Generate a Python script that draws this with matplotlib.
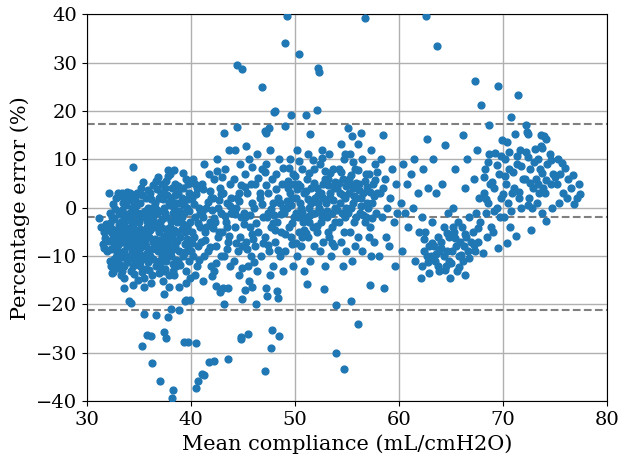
import matplotlib
matplotlib.use('Agg')
import matplotlib.pyplot as plt
import numpy as np

# Bland-Altman style plot: percentage error vs mean compliance
bias = -1.9
upper_loa = 17.25
lower_loa = -21.05

left_cluster = [
    (31.2, -2.2), (31.5, -7.5), (31.6, -5.0), (31.8, -3.4), (31.9, -9.0), (31.7, -6.2),
    (32.1, 3.0), (32.2, -1.0), (32.3, -4.2), (32.4, -5.3), (32.5, -6.4), (32.6, -7.2), (32.7, -8.1),
    (32.8, -10.2), (32.9, -11.0), (32.3, -12.1), (32.5, -13.3), (32.8, 2.0), (32.2, -3.1), (32.6, -2.4),
    (32.9, -9.3), (32.4, -13.6), (32.7, -5.8), (32.1, -6.9), (32.9, -4.7),
    (33.0, 3.1), (33.4, 3.0), (33.9, 3.3), (33.2, 2.5), (33.5, 1.0), (33.1, -1.2), (33.6, -2.0),
    (33.3, -3.0), (33.8, -4.1), (33.2, -5.0), (33.7, -6.1), (33.4, -7.0), (33.9, -8.0), (33.1, -9.2),
    (33.5, -10.1), (33.6, -12.0), (33.3, -14.0), (33.6, -16.7), (33.8, 0.5), (33.0, -4.5), (33.5, -5.5),
    (33.2, -6.5), (33.9, -11.3), (33.4, -13.1), (33.7, -2.7), (33.0, -7.8),
    (34.45, 8.4), (34.1, 3.1), (34.6, 2.0), (34.3, 0.0), (34.8, -1.0), (34.2, -2.1), (34.7, -3.0),
    (34.4, -4.2), (34.9, -5.0), (34.1, -6.1), (34.5, -7.0), (34.8, -8.1), (34.3, -9.0), (34.6, -11.0),
    (34.2, -13.0), (34.9, -15.0), (34.0, -19.3), (34.2, -19.8), (34.5, 1.1), (34.9, -2.5), (34.0, -5.5),
    (34.7, -9.5), (34.4, -12.1), (34.8, -6.6), (34.1, -10.4), (34.6, -4.7),
    (35.4, 5.3), (35.2, 4.0), (35.7, 2.1), (35.1, 1.0), (35.9, 0.0), (35.3, -1.0), (35.6, -2.0),
    (35.0, -3.0), (35.8, -4.0), (35.4, -5.0), (35.2, -6.0), (35.7, -8.0), (35.5, -10.0), (35.1, -12.0),
    (35.5, -14.6), (35.5, -22.0), (35.3, -28.5), (35.8, -26.4), (35.9, -3.5), (35.6, -7.0), (35.0, -9.1),
    (35.9, -11.2), (35.3, -13.2), (35.7, -5.6), (35.2, -1.8),
    (36.8, 6.3), (36.6, 5.5), (36.4, 4.6), (36.1, 3.0), (36.9, 2.0), (36.3, 0.0), (36.7, -1.0),
    (36.2, -3.0), (36.5, -4.0), (36.9, -5.0), (36.0, -6.0), (36.4, -7.0), (36.8, -9.0), (36.1, -10.0),
    (36.6, -12.0), (36.3, -14.0), (36.6, -22.2), (36.2, -26.5), (36.3, -32.2), (37.0, -35.9), (36.5, 1.0),
    (36.0, -2.0), (36.7, -8.0), (36.9, -11.0), (36.2, -15.5), (36.5, -6.4),
    (37.8, 7.8), (37.8, 6.6), (37.2, 5.0), (37.5, 4.0), (37.1, 3.0), (37.9, 1.0), (37.4, 0.0),
    (37.6, -2.0), (37.0, -3.0), (37.8, -5.0), (37.3, -7.0), (37.7, -8.0), (37.2, -10.0), (37.6, -11.0),
    (37.4, -13.0), (37.3, -15.1), (37.4, -17.9), (37.9, -16.3), (37.8, -22.7), (37.4, -25.6), (37.65, -26.9),
    (37.0, 2.0), (37.5, -1.0), (37.1, -4.0), (37.9, -6.0), (37.5, -9.2), (37.0, -12.0),
    (38.4, 7.75), (38.0, 6.9), (38.5, 5.0), (38.2, 4.0), (38.8, 3.0), (38.1, 2.0), (38.6, 1.0),
    (38.3, -1.0), (38.9, -2.0), (38.0, -4.0), (38.7, -5.0), (38.2, -6.0), (38.5, -8.0), (38.9, -9.0),
    (38.1, -10.0), (38.6, -12.0), (38.4, -14.0), (38.85, -16.3), (38.1, -21.0), (38.9, -21.1),
    (38.3, -37.6), (38.2, -39.4), (38.4, 0.0), (38.7, -3.0), (38.0, -7.0), (38.8, -11.0), (38.3, -13.0),
    (39.5, 6.0), (39.2, 4.0), (39.8, 3.0), (39.1, 2.0), (39.6, 0.0), (39.3, -1.0), (39.9, -3.0),
    (39.4, -5.0), (39.0, -6.0), (39.7, -8.0), (39.2, -10.0), (39.8, -11.0), (39.5, -13.0),
    (39.45, -19.3), (39.55, -19.1), (39.9, -19.1), (39.3, -27.75), (39.7, -27.7), (39.1, -2.0),
    (39.6, -4.0), (39.0, 1.0), (39.4, -7.5), (39.9, -14.5),
]

# extra points filling the dense block at low compliance
left_fill = [
    (32.0, -4.6), (32.3, -8.6), (32.6, -10.6), (32.8, -6.6), (32.4, -2.0), (32.9, -12.4), (32.2, -11.0),
    (32.7, -0.2), (32.5, 0.8), (31.9, -4.4), (31.4, -3.9), (31.6, -8.4),
    (33.1, -3.6), (33.3, -5.8), (33.6, -8.9), (33.8, -9.9), (33.2, -11.8), (33.5, -3.8), (33.9, -1.4),
    (33.4, -0.4), (33.7, 2.1), (33.0, -10.8), (33.6, -14.5), (33.8, -6.8),
    (34.3, -3.4), (34.6, -5.8), (34.1, -7.8), (34.9, -10.6), (34.5, -13.8), (34.2, -0.8), (34.7, 0.4),
    (34.0, 1.6), (34.8, 3.0), (34.4, -16.0), (34.6, -8.6), (34.1, -4.1),
    (35.1, -4.5), (35.4, -6.8), (35.8, -9.4), (35.2, -10.9), (35.6, -0.6), (35.3, 2.6), (35.9, 3.6),
    (35.0, -1.4), (35.7, -12.6), (35.5, -16.4), (35.2, -8.2), (35.8, -2.8),
    (36.1, -4.6), (36.4, -2.3), (36.7, -3.6), (36.3, -8.6), (36.8, -6.8), (36.2, 1.7), (36.6, -0.2),
    (36.0, -12.8), (36.9, -13.5), (36.4, -10.6), (36.7, 3.8), (36.1, -1.1),
    (37.2, -2.4), (37.6, -4.5), (37.4, -5.8), (37.1, -8.6), (37.8, -9.8), (37.3, 1.8), (37.7, 2.7),
    (37.5, -12.6), (37.9, -13.9), (37.2, -0.6), (37.6, 5.6), (37.0, -6.6),
    (38.1, -2.8), (38.4, -4.6), (38.7, -6.9), (38.2, -8.8), (38.9, -0.6), (38.5, 2.6), (38.0, 0.6),
    (38.6, -10.8), (38.3, -11.6), (38.8, 4.5), (38.1, -5.6), (38.5, -1.8),
    (39.2, -3.4), (39.6, -6.4), (39.4, -9.2), (39.0, -11.8), (39.8, -0.6), (39.3, 0.6), (39.7, 1.8),
    (39.1, -4.4), (39.9, -7.0), (39.5, -15.6), (39.2, 7.1), (39.7, 4.8),
]

mid_cluster = [
    (40.2, 6.0), (40.6, 4.0), (40.1, 2.0), (40.8, 0.0), (40.4, -2.0), (40.9, -4.0), (40.3, -6.0),
    (40.7, -8.0), (40.2, -10.0), (40.6, -12.0), (40.4, -14.0), (40.5, -27.9), (40.5, -37.3), (40.7, -35.9),
    (40.1, -5.0), (40.9, -1.0), (40.5, 2.9), (40.0, -9.0),
    (41.3, 9.0), (41.7, 7.0), (41.1, 5.0), (41.9, 2.0), (41.5, 0.0), (41.2, -2.0), (41.8, -3.0),
    (41.4, -5.0), (41.0, -7.0), (41.6, -9.0), (41.3, -10.0), (41.9, -12.0), (41.2, -15.1), (42.0, -14.2),
    (41.1, -34.4), (41.3, -34.6), (41.7, -31.8), (41.5, -4.0), (41.8, 3.5),
    (42.5, 10.0), (42.2, 6.0), (42.8, 4.0), (42.1, 2.0), (42.6, 0.0), (42.9, -1.0), (42.3, -3.0),
    (42.7, -5.0), (42.4, -8.0), (42.9, -10.0), (42.2, -13.0), (42.4, -16.2), (42.8, -17.4), (42.2, -31.7),
    (42.6, -6.0), (42.0, -0.5), (42.5, 7.5),
    (43.2, 15.4), (43.7, 12.0), (43.3, 8.0), (43.8, 5.0), (43.1, 3.0), (43.5, 1.0), (43.9, -1.0),
    (43.4, -3.0), (43.0, -5.0), (43.6, -7.0), (43.2, -10.0), (43.8, -12.0), (43.1, -16.5), (43.6, -16.5),
    (43.2, -19.9), (43.6, -31.2), (43.5, -4.0), (43.9, 2.0),
    (44.4, 29.6), (44.9, 28.6), (44.4, 16.6), (44.2, 12.0), (44.7, 9.0), (44.1, 6.0), (44.6, 3.0),
    (44.3, 0.0), (44.8, -2.0), (44.2, -4.0), (44.7, -6.0), (44.5, -9.0), (44.1, -11.0), (44.6, -14.0),
    (44.8, -26.7), (44.8, -27.1), (44.9, -18.9), (44.4, 2.0), (44.9, -8.0),
    (45.3, 12.8), (45.6, 10.0), (45.2, 7.0), (45.8, 5.0), (45.4, 3.0), (45.9, 1.0), (45.1, -1.0),
    (45.7, -4.0), (45.3, -7.0), (45.8, -10.0), (45.5, -12.0), (45.6, -15.1), (45.25, -17.1), (45.85, -16.4),
    (45.5, -26.2), (45.2, -2.0), (45.9, -5.5),
    (46.85, 25.0), (47.1, 15.9), (46.4, 11.0), (46.8, 8.0), (46.2, 5.0), (46.6, 2.0), (46.1, 0.0),
    (46.9, -2.0), (46.5, -5.0), (46.2, -8.0), (46.7, -10.0), (46.4, -13.0), (46.3, -20.0), (47.2, -16.7),
    (47.3, -18.2), (46.6, 3.0), (46.0, -6.5),
    (47.25, 15.5), (47.5, 16.4), (47.6, 12.0), (47.2, 9.0), (47.8, 6.0), (47.4, 3.0), (47.9, 1.0),
    (47.3, -2.0), (47.7, -4.0), (47.1, -6.0), (47.5, -9.0), (47.9, -12.0), (47.6, -14.0), (47.8, -25.3),
    (47.7, -29.0), (47.1, -33.7), (47.4, -1.0),
    (48.1, 20.0), (48.0, 19.8), (48.5, 10.0), (48.2, 7.0), (48.8, 5.0), (48.4, 2.0), (48.9, 0.0),
    (48.3, -3.0), (48.7, -5.0), (48.1, -7.0), (48.6, -10.0), (48.9, -13.0), (48.3, -17.3), (48.4, -18.7),
    (48.5, -26.6), (48.6, 1.0), (48.0, -1.5),
    (49.2, 39.7), (49.1, 34.0), (49.6, 19.2), (49.1, 16.9), (49.5, 10.0), (49.8, 7.0), (49.3, 4.0),
    (49.7, 2.0), (49.2, 0.0), (49.9, -2.0), (49.4, -4.0), (49.6, -6.0), (49.1, -9.0), (49.8, -12.0),
    (49.5, 3.0), (49.0, -1.0), (49.3, 5.5), (49.7, -7.5),
    (50.4, 31.7), (50.2, 12.0), (50.7, 8.0), (50.3, 5.0), (50.9, 3.0), (50.5, 1.0), (50.1, -1.0),
    (50.8, -3.0), (50.4, -5.0), (50.6, -8.0), (50.2, -10.0), (50.9, -13.0), (50.6, 0.0), (50.0, 6.5),
    (50.3, -2.0), (50.7, -6.0), (50.1, 2.0),
    (51.1, 19.2), (51.5, 15.3), (51.3, 11.0), (51.8, 8.0), (51.2, 6.0), (51.6, 4.0), (51.9, 2.0),
    (51.4, 0.0), (51.0, -2.0), (51.7, -4.0), (51.3, -6.0), (51.8, -8.0), (51.5, -11.0), (51.2, -15.7),
    (51.6, 1.0), (51.9, -1.0), (51.1, 3.5), (51.4, -3.0),
    (52.2, 28.8), (52.3, 28.1), (52.15, 20.3), (52.6, 12.0), (52.4, 9.0), (52.9, 6.0), (52.1, 4.0),
    (52.7, 2.0), (52.3, 0.0), (52.8, -1.0), (52.5, -3.0), (52.1, -5.0), (52.7, -7.0), (52.4, -9.0),
    (52.9, -12.0), (52.8, -16.85), (52.6, -2.0), (52.2, 1.0), (52.5, 3.0),
    (53.3, 11.0), (53.7, 8.0), (53.2, 6.0), (53.8, 4.0), (53.4, 2.0), (53.9, 0.0), (53.1, -2.0),
    (53.6, -4.0), (53.3, -6.0), (53.8, -8.0), (53.5, -10.0), (53.0, 1.0), (53.6, -1.0), (53.4, 3.0),
    (53.9, -3.0), (53.2, -5.0),
    (54.4, 13.1), (54.7, 10.0), (54.2, 8.0), (54.6, 6.0), (54.1, 4.0), (54.8, 2.0), (54.3, 1.0),
    (54.9, 0.0), (54.5, -1.0), (54.2, -3.0), (54.7, -5.0), (54.4, -7.0), (54.9, -9.0), (54.6, -12.0),
    (54.0, -20.2), (54.0, -30.1), (54.7, -33.4), (54.3, 3.0), (54.8, -2.0),
    (55.1, 16.5), (55.5, 14.8), (55.3, 11.0), (55.8, 8.0), (55.2, 6.0), (55.6, 4.0), (55.9, 2.0),
    (55.4, 0.0), (55.1, -1.0), (55.7, -3.0), (55.3, -5.0), (55.8, -8.0), (55.5, -11.0), (55.4, -19.3),
    (55.6, 1.0), (55.9, -2.0), (55.2, 3.0),
    (56.7, 39.2), (56.4, 15.4), (56.1, 13.1), (56.5, 10.0), (56.8, 7.0), (56.2, 5.0), (56.6, 3.0),
    (56.9, 1.0), (56.3, -1.0), (56.7, -3.0), (56.1, -6.0), (56.5, -9.0), (57.2, -16.0), (56.1, -24.1),
    (56.4, 2.0), (56.8, -2.0),
    (57.3, 12.0), (57.7, 9.0), (57.1, 7.0), (57.5, 5.0), (57.9, 3.0), (57.4, 1.0), (57.8, -1.0),
    (57.2, -4.0), (57.6, -7.0), (57.3, -10.0), (57.0, 0.0), (57.6, 2.5),
]

# extra points filling the middle band
mid_fill = [
    (40.3, 0.8), (40.7, -3.2), (40.1, -7.4), (40.8, -10.8), (40.4, 4.8),
    (41.1, -0.8), (41.6, 1.2), (41.4, -6.6), (41.8, -8.2), (41.2, 3.8),
    (42.2, -2.2), (42.7, 1.6), (42.4, -11.4), (42.9, 2.8), (42.1, -4.2),
    (43.3, -1.8), (43.8, 0.4), (43.5, -8.6), (43.0, 6.4), (43.7, -5.8),
    (44.2, -1.2), (44.6, 1.4), (44.8, 4.6), (44.3, -7.2), (44.9, -12.4),
    (45.2, 4.2), (45.7, -1.6), (45.4, -8.6), (45.9, 8.4), (45.1, -3.4),
    (46.3, -3.2), (46.8, 0.8), (46.5, 6.2), (46.1, -11.2), (46.9, -7.4),
    (47.2, 4.6), (47.7, -0.2), (47.4, -7.8), (47.9, -3.2), (47.1, 7.4),
    (48.2, 3.8), (48.7, -1.4), (48.4, -8.8), (48.9, 8.2), (48.1, -4.6),
    (49.2, 1.4), (49.7, -3.2), (49.4, 8.2), (49.9, 4.8), (49.1, -5.4), (49.6, 0.6),
    (50.2, 3.8), (50.7, -0.8), (50.5, 4.4), (50.9, -4.6), (50.1, -7.2), (50.4, 9.6),
    (51.3, 1.8), (51.8, 5.2), (51.5, -1.6), (51.1, -5.2), (51.7, 9.8), (51.4, 7.2),
    (52.2, 2.6), (52.7, 4.8), (52.4, -0.6), (52.9, 7.6), (52.1, -3.8), (52.6, 10.2),
    (53.2, 4.6), (53.7, 1.6), (53.4, 7.2), (53.9, 5.4), (53.1, -0.6), (53.6, -7.2),
    (54.2, 5.2), (54.6, 2.6), (54.4, 7.4), (54.9, 4.4), (54.1, -0.4), (54.8, 11.2),
    (55.2, 4.8), (55.7, 2.4), (55.4, 6.8), (55.9, 5.2), (55.1, -0.2), (55.6, 9.4),
    (56.2, 3.6), (56.7, 5.6), (56.4, 0.4), (56.9, 4.2), (56.1, 7.8), (56.6, -1.6),
    (57.2, 3.2), (57.7, 5.8), (57.4, -2.2), (57.9, 7.4), (57.1, -6.0),
]

right_cluster = [
    (58.5, 15.1), (58.3, 10.0), (58.7, 6.0), (58.2, 3.0), (58.9, 0.0), (58.4, -2.0), (58.8, -6.0),
    (58.1, -10.0), (58.6, -16.5), (58.5, 4.0),
    (59.3, 8.0), (59.7, 5.0), (59.2, 2.0), (59.8, -1.0), (59.5, -3.0), (59.1, -8.0), (59.6, -12.0),
    (60.4, 9.0), (60.8, 5.0), (60.2, 1.0), (60.6, -1.0), (60.9, -4.0), (60.3, -9.0),
    (61.5, 10.0), (61.2, 7.0), (61.8, 3.0), (61.4, 0.0), (61.9, -5.0), (61.6, -11.0),
    (62.6, 39.7), (62.7, 14.2), (62.3, 8.0), (62.8, 4.0), (62.2, -2.0), (62.5, -5.0), (62.9, -8.0),
    (62.4, -9.0), (62.7, -10.0), (62.2, -12.0), (62.1, -14.6),
    (63.7, 33.5), (63.3, 10.0), (63.6, 3.0), (63.2, -3.0), (63.8, -6.0), (63.4, -8.0), (63.9, -9.0),
    (63.1, -10.0), (63.5, -11.0), (63.8, -12.0),
    (64.4, 13.0), (64.2, 5.0), (64.7, -1.0), (64.3, -4.0), (64.8, -6.0), (64.1, -7.0), (64.6, -9.0),
    (64.3, -10.0), (64.8, -11.0), (64.5, -12.0), (64.9, -14.6),
    (65.4, 8.0), (65.2, 0.0), (65.7, -3.0), (65.3, -5.0), (65.9, -7.0), (65.5, -8.0), (65.1, -9.0),
    (65.8, -10.0), (65.6, -13.0),
    (66.2, 15.0), (66.6, 10.0), (66.4, 4.0), (66.8, -2.0), (66.1, -4.0), (66.5, -6.0), (66.9, -7.0),
    (66.3, -8.0), (66.7, -9.0), (66.2, -11.0), (66.35, -14.0),
    (67.3, 26.2), (67.9, 21.2), (67.5, 12.0), (67.2, 6.0), (67.7, 2.0), (67.4, -1.0), (67.8, -3.0),
    (67.1, -5.0), (67.6, -7.0), (67.3, -9.0),
    (68.7, 17.1), (68.7, 11.1), (68.3, 8.0), (68.8, 5.0), (68.2, 3.0), (68.6, 1.0), (68.4, -1.0),
    (68.9, -4.0), (68.1, -9.4), (68.5, -6.0),
    (69.5, 25.2), (69.9, 13.9), (69.3, 11.3), (69.6, 7.0), (69.2, 4.0), (69.8, 2.0), (69.4, 0.0),
    (69.7, -2.0), (69.1, -5.0), (69.5, -8.3),
    (70.8, 18.8), (70.45, 13.5), (70.2, 10.0), (70.6, 8.0), (70.3, 5.0), (70.9, 3.0), (70.5, 1.0),
    (70.1, -2.0), (70.7, -4.0), (70.4, -7.2),
    (71.5, 23.4), (71.2, 15.2), (71.7, 12.0), (71.4, 9.0), (71.9, 6.0), (71.1, 4.0), (71.6, 2.0),
    (71.8, 0.0), (71.3, -5.8),
    (72.2, 17.0), (72.3, 15.6), (72.4, 15.2), (72.4, 10.4), (72.6, 8.0), (72.1, 6.0), (72.9, 4.0),
    (72.5, 2.0), (72.8, 0.0), (72.7, -4.7),
    (73.7, 15.0), (73.7, 12.8), (73.1, 12.2), (73.4, 10.1), (73.6, 8.0), (73.2, 6.0), (73.9, 4.0),
    (73.5, 3.0), (73.3, 1.0), (73.8, -1.0),
    (74.0, 14.9), (74.2, 14.1), (73.8, 12.4), (74.5, 11.0), (74.3, 9.0), (74.8, 7.0), (74.6, 5.0),
    (74.1, 3.0), (74.7, 0.0), (74.2, -2.7),
    (75.3, 10.0), (75.7, 9.2), (75.5, 7.0), (75.2, 5.0), (75.8, 3.0), (75.4, 1.0),
    (76.0, 8.2), (76.8, 6.8), (76.3, 6.0), (76.6, 4.0), (76.2, 2.0),
    (77.45, 2.85), (77.1, 2.0), (76.9, 0.7), (77.3, 5.0),
]

# extra points for the high compliance groups
right_fill = [
    (62.4, -6.4), (62.8, -11.2), (63.2, -7.2), (63.6, -9.6), (63.9, -13.0), (64.1, -8.4),
    (64.6, -5.2), (65.0, -11.4), (65.4, -6.2), (65.8, -12.2), (66.0, -9.8), (66.4, -5.4),
    (66.8, -10.4), (67.2, -7.8), (67.6, -4.2), (62.9, -13.4), (64.4, -12.8), (65.2, -4.0),
    (68.2, 6.4), (68.6, 9.4), (69.0, 5.4), (69.4, 8.8), (69.8, 10.6), (70.2, 6.6),
    (70.6, 11.6), (71.0, 7.4), (71.4, 10.6), (71.8, 8.6), (72.2, 11.6), (72.6, 5.2),
    (73.0, 9.4), (73.4, 4.8), (73.8, 7.2), (74.2, 5.8), (74.6, 9.8), (75.0, 6.4),
    (68.4, 1.8), (69.2, -0.6), (70.0, 2.8), (70.8, -0.6), (71.6, 3.2), (72.4, 0.6),
]

pts = np.array(left_cluster + left_fill + mid_cluster + mid_fill + right_cluster + right_fill)

plt.rcParams['font.family'] = 'DejaVu Serif'
fig = plt.figure(figsize=(6.21, 4.59), dpi=100)
ax = fig.add_axes([0.140, 0.126, 0.837, 0.843])

ax.scatter(pts[:, 0], pts[:, 1], s=24, color='#1f77b4', zorder=3)
for lvl in [upper_loa, bias, lower_loa]:
    ax.axhline(lvl, color='gray', linestyle='--', linewidth=1.5, zorder=2)

ax.set_xlim(30, 80)
ax.set_ylim(-40, 40)
ax.set_xlabel('Mean compliance (mL/cmH2O)', fontsize=15)
ax.set_ylabel('Percentage error (%)', fontsize=15)
ax.tick_params(labelsize=14)
ax.grid(True, color='#b0b0b0', linewidth=1.0)
ax.set_axisbelow(True)

plt.savefig('out.png', dpi=100)
